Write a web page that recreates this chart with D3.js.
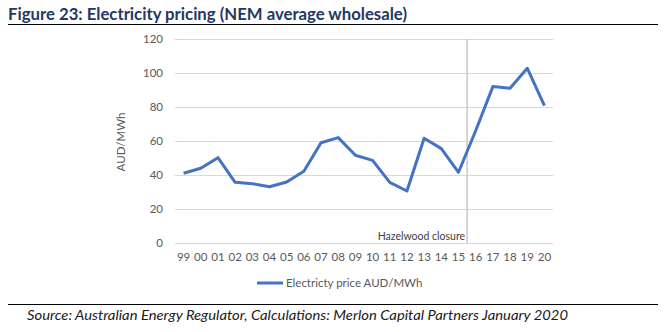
<!DOCTYPE html>
<html>
<head>
<meta charset="utf-8">
<script src="https://cdn.jsdelivr.net/npm/d3@7"></script>
<style>
html,body{margin:0;padding:0;background:#fff;}
svg{display:block;}
</style>
</head>
<body>
<svg id="c" width="666" height="332"></svg>
<script>
const categories = ["99","00","01","02","03","04","05","06","07","08","09","10","11","12","13","14","15","16","17","18","19","20"];
const prices = [41,44,50.2,35.7,34.9,33.1,35.9,42.2,59,62,51.6,48.6,35.7,30.6,61.6,55.5,41.6,66,92,91,102.8,80.8];
const yTicks = [0,20,40,60,80,100,120];
const seriesName = "Electricty price AUD/MWh";
const markerCategory = "16";
const markerLabel = "Hazelwood closure";

const svg = d3.select("#c");
const x = d3.scaleBand().domain(categories).range([175, 553]).padding(0);
const y = d3.scaleLinear().domain([0, 120]).range([243, 39]);
const textCol = "#595959";
const font = "Lato, 'Open Sans', sans-serif";

// title
svg.append("text").attr("x", 8).attr("y", 20)
  .attr("font-family", "Lato, sans-serif").attr("font-weight", "bold")
  .attr("font-size", 17).attr("fill", "#1F3864")
  .attr("textLength", 399).attr("lengthAdjust", "spacingAndGlyphs")
  .text("Figure 23: Electricity pricing (NEM average wholesale)");
svg.append("line").attr("x1", 8).attr("x2", 658).attr("y1", 24.5).attr("y2", 24.5)
  .attr("stroke", "#000").attr("stroke-width", 1.2);

// gridlines
const yAxis = d3.axisLeft(y).tickValues(yTicks).tickSize(-(553 - 175)).tickPadding(12);
const gy = svg.append("g").attr("transform", "translate(175,0)").call(yAxis);
gy.select(".domain").remove();
gy.selectAll(".tick line").attr("stroke", "#d9d9d9").attr("stroke-width", 1);
gy.selectAll(".tick text").attr("fill", textCol).attr("font-family", font).attr("font-size", 11.5);

// x axis
const xAxis = d3.axisBottom(x).tickSize(0).tickPadding(10);
const gx = svg.append("g").attr("transform", "translate(0,243)").call(xAxis);
gx.select(".domain").remove();
gx.selectAll(".tick text").attr("fill", textCol).attr("font-family", font).attr("font-size", 11.5);

// marker line
const mx = x(markerCategory);
svg.append("line").attr("x1", mx).attr("x2", mx).attr("y1", y(120)).attr("y2", y(0))
  .attr("stroke", "#c8c8c8").attr("stroke-width", 1.5);
svg.append("text").attr("x", mx - 2).attr("y", 240).attr("text-anchor", "end")
  .attr("font-family", font).attr("font-size", 10.5).attr("fill", "#404040")
  .text(markerLabel);

// y label
svg.append("text").attr("transform", "translate(125,142) rotate(-90)")
  .attr("text-anchor", "middle").attr("font-family", font).attr("font-size", 11.5)
  .attr("fill", textCol).text("AUD/MWh");

// series line
const line = d3.line().x((d, i) => x(categories[i]) + x.bandwidth() / 2).y(d => y(d));
svg.append("path").datum(prices).attr("d", line).attr("fill", "none")
  .attr("stroke", "#4472C4").attr("stroke-width", 3).attr("stroke-linejoin", "round");

// legend
svg.append("line").attr("x1", 257).attr("x2", 283).attr("y1", 283).attr("y2", 283)
  .attr("stroke", "#4472C4").attr("stroke-width", 3);
svg.append("text").attr("x", 286).attr("y", 287).attr("font-family", font)
  .attr("font-size", 11.5).attr("fill", textCol).text(seriesName);

// bottom rule & source
svg.append("line").attr("x1", 8).attr("x2", 658).attr("y1", 304.5).attr("y2", 304.5)
  .attr("stroke", "#000").attr("stroke-width", 1.2);
svg.append("text").attr("x", 27).attr("y", 320).attr("font-family", font)
  .attr("font-style", "italic").attr("font-size", 13).attr("fill", "#1a1a1a")
  .attr("textLength", 541).attr("lengthAdjust", "spacingAndGlyphs")
  .text("Source: Australian Energy Regulator, Calculations: Merlon Capital Partners January 2020");
</script>
</body>
</html>
